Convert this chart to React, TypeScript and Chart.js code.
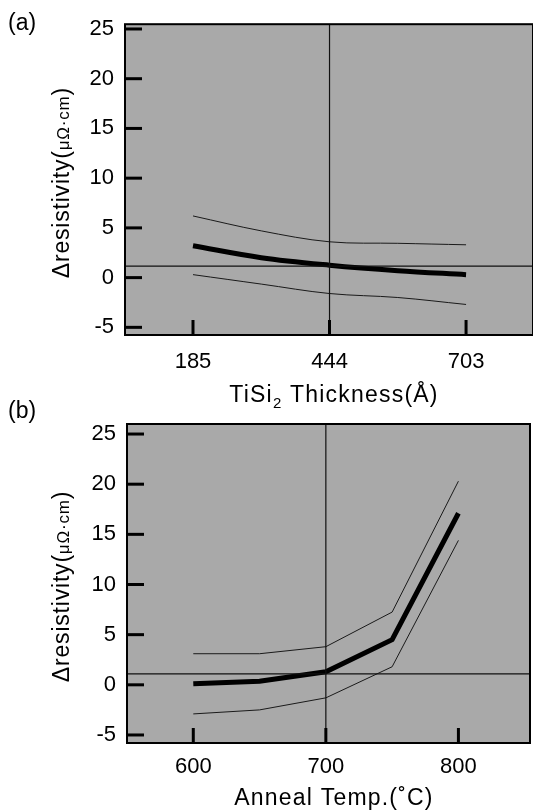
import React, { useEffect, useRef } from "react";
import { Chart, registerables } from "chart.js";
Chart.register(...registerables);

const FONT = "'Liberation Sans', Arial, Helvetica, sans-serif";
const BG = "#a9a9a9";

// ---- shared ----
const yTickValues = [-5, 0, 5, 10, 15, 20, 25];

// ---- panel (a): TiSi2 thickness ----
const thicknessTicks = [185, 444, 703];
const thicknessX = [185, 314.5, 444, 573.5, 703];
const thicknessMean = [3.2, 2.0, 1.25, 0.7, 0.3];
const thicknessUpper = [6.2, 4.7, 3.6, 3.45, 3.3];
const thicknessLower = [0.3, -0.65, -1.6, -2.0, -2.7];
const thicknessRefX = 444;
const thicknessRefY = 1.15;

// ---- panel (b): anneal temperature ----
const tempTicks = [600, 700, 800];
const tempX = [600, 650, 700, 750, 800];
const tempMean = [0.1, 0.35, 1.3, 4.5, 17.1];
const tempUpper = [3.1, 3.1, 3.8, 7.25, 20.3];
const tempLower = [-2.9, -2.5, -1.3, 1.8, 14.4];
const tempRefX = 700;
const tempRefY = 1.1;

type Piece = { t: string; size: number; dy?: number };

function drawPieces(ctx: CanvasRenderingContext2D, pieces: Piece[], cx: number, cy: number, rotate: boolean, spacing: number) {
  ctx.save();
  (ctx as any).letterSpacing = `${spacing}px`;
  ctx.fillStyle = "#000";
  ctx.textBaseline = "alphabetic";
  ctx.textAlign = "left";
  let total = 0;
  const widths = pieces.map((p) => {
    ctx.font = `${p.size}px ${FONT}`;
    const w = ctx.measureText(p.t).width;
    total += w;
    return w;
  });
  ctx.translate(cx, cy);
  if (rotate) ctx.rotate(-Math.PI / 2);
  let x = -total / 2;
  pieces.forEach((p, i) => {
    ctx.font = `${p.size}px ${FONT}`;
    ctx.fillText(p.t, x, 8 + (p.dy || 0));
    x += widths[i];
  });
  ctx.restore();
}

function makeDecor(label: string, labelY: number, xTitle: Piece[], xTitleY: number) {
  return {
    id: "decor",
    beforeDraw(chart: any) {
      const { ctx, chartArea: a } = chart;
      ctx.save();
      ctx.fillStyle = BG;
      ctx.fillRect(a.left, a.top, a.right - a.left, a.bottom - a.top);
      ctx.restore();
    },
    afterDraw(chart: any) {
      const { ctx, chartArea: a } = chart;
      const xs = chart.scales.x;
      const ys = chart.scales.y;
      ctx.save();
      // frame
      ctx.strokeStyle = "#000";
      ctx.lineWidth = 2;
      ctx.strokeRect(a.left, a.top, a.right - a.left, a.bottom - a.top);
      // inner ticks
      ctx.lineWidth = 3;
      ctx.lineCap = "butt";
      ys.ticks.forEach((t: any) => {
        const y = ys.getPixelForValue(t.value);
        ctx.beginPath();
        ctx.moveTo(a.left, y);
        ctx.lineTo(a.left + 17, y);
        ctx.stroke();
      });
      xs.ticks.forEach((t: any) => {
        const x = xs.getPixelForValue(t.value);
        ctx.beginPath();
        ctx.moveTo(x, a.bottom);
        ctx.lineTo(x, a.bottom - 15);
        ctx.stroke();
      });
      ctx.restore();
      // panel label
      ctx.save();
      ctx.fillStyle = "#000";
      ctx.font = `23px ${FONT}`;
      ctx.textBaseline = "middle";
      ctx.textAlign = "left";
      ctx.fillText(label, 8, labelY);
      ctx.restore();
      // y title
      drawPieces(
        ctx,
        [
          { t: "\u0394resistivity(", size: 23 },
          { t: "\u03bc\u03a9\u00b7cm", size: 17 },
          { t: ")", size: 23 },
        ],
        61,
        (a.top + a.bottom) / 2 + 3,
        true,
        0.8
      );
      // x title
      drawPieces(ctx, xTitle, 334, xTitleY, false, 1.2);
    },
  };
}

function pts(xs: number[], ys: number[]) {
  return xs.map((x, i) => ({ x, y: ys[i] }));
}

function buildConfig(p: any) {
  const thin = { borderColor: "#1a1a1a", borderWidth: 1, pointRadius: 0, tension: p.tension, fill: false };
  const ref = { borderColor: "#111", borderWidth: 1.2, pointRadius: 0, tension: 0, fill: false };
  return {
    type: "line",
    data: {
      datasets: [
        { ...ref, data: [{ x: p.xMin, y: p.refY }, { x: p.xMax, y: p.refY }] },
        { ...ref, data: [{ x: p.refX, y: p.yMin }, { x: p.refX, y: p.yMax }] },
        { ...thin, data: pts(p.xs, p.upper) },
        { ...thin, data: pts(p.xs, p.lower) },
        { borderColor: "#000", borderWidth: 5, pointRadius: 0, tension: p.tension, fill: false, borderCapStyle: "butt", data: pts(p.xs, p.mean) },
      ],
    },
    options: {
      animation: false,
      responsive: false,
      maintainAspectRatio: false,
      devicePixelRatio: 1,
      layout: { padding: { top: p.top, right: p.W - p.right, left: 0, bottom: 0 } },
      plugins: { legend: { display: false }, tooltip: { enabled: false }, title: { display: false } },
      scales: {
        x: {
          type: "linear",
          min: p.xMin,
          max: p.xMax,
          afterBuildTicks: (s: any) => {
            s.ticks = p.xTicks.map((v: number) => ({ value: v }));
          },
          afterFit: (s: any) => {
            s.height = p.H - p.bottom;
          },
          grid: { display: false, drawTicks: false },
          border: { display: false },
          ticks: { color: "#000", font: { family: FONT, size: 22 }, padding: p.xPad, maxRotation: 0, autoSkip: false },
        },
        y: {
          type: "linear",
          min: p.yMin,
          max: p.yMax,
          afterBuildTicks: (s: any) => {
            s.ticks = yTickValues.map((v) => ({ value: v }));
          },
          afterFit: (s: any) => {
            s.width = p.left;
          },
          grid: { display: false, drawTicks: false },
          border: { display: false },
          ticks: { color: "#000", font: { family: FONT, size: 22 }, padding: 11, autoSkip: false },
        },
      },
    },
    plugins: [p.decor],
  };
}

function Panel(props: { cfg: any; W: number; H: number; top: number }) {
  const ref = useRef<HTMLCanvasElement | null>(null);
  useEffect(() => {
    if (!ref.current) return;
    const chart = new Chart(ref.current, props.cfg);
    return () => chart.destroy();
  }, []);
  return (
    <canvas
      ref={ref}
      width={props.W}
      height={props.H}
      style={{ position: "absolute", left: 0, top: props.top, width: props.W, height: props.H, display: "block" }}
    />
  );
}

export default function App() {
  const W = 533;
  const HA = 418;
  const TB = 395;
  const HB = 812 - TB;
  const cfgA = buildConfig({
    H: HA,
    W,
    top: 12,
    bottom: 335,
    left: 125,
    right: 533,
    xMin: 56,
    xMax: 830,
    yMin: -5.77,
    yMax: 25.48,
    xTicks: thicknessTicks,
    xs: thicknessX,
    mean: thicknessMean,
    upper: thicknessUpper,
    lower: thicknessLower,
    refX: thicknessRefX,
    refY: thicknessRefY,
    tension: 0.35,
    xPad: 14,
    decor: makeDecor("(a)", 24, [
      { t: "TiSi", size: 23 },
      { t: "2", size: 15, dy: 6 },
      { t: " Thickness(\u00c5)", size: 23 },
    ], 394),
  });
  const cfgB = buildConfig({
    H: HB,
    W,
    top: 424 - TB,
    bottom: 743 - TB,
    left: 127,
    right: 530,
    xMin: 550,
    xMax: 854,
    yMin: -5.8,
    yMax: 26,
    xTicks: tempTicks,
    xs: tempX,
    mean: tempMean,
    upper: tempUpper,
    lower: tempLower,
    refX: tempRefX,
    refY: tempRefY,
    tension: 0,
    xPad: 11,
    decor: makeDecor("(b)", 412 - TB, [{ t: "Anneal Temp.(\u02daC)", size: 23 }], 797 - TB),
  });
  return (
    <div style={{ position: "absolute", left: 0, top: 0, width: W, height: 812 }}>
      <Panel cfg={cfgA} W={W} H={HA} top={0} />
      <Panel cfg={cfgB} W={W} H={HB} top={TB} />
    </div>
  );
}
